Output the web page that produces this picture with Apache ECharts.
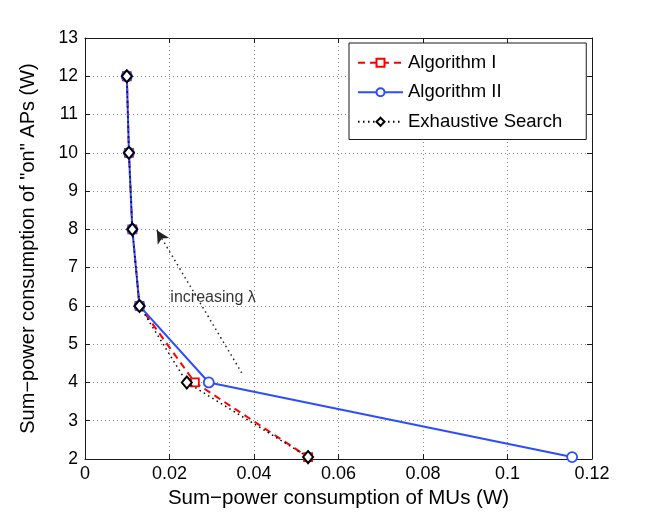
<!DOCTYPE html>
<html><head><meta charset="utf-8">
<script src="https://cdn.jsdelivr.net/npm/echarts@6/dist/echarts.min.js"></script>
<style>html,body{margin:0;padding:0;background:#fff}#c{width:654px;height:517px}</style>
</head><body><div id="c"></div>
<script>
const xTicks = [0, 0.02, 0.04, 0.06, 0.08, 0.1, 0.12];
const yTicks = [2, 3, 4, 5, 6, 7, 8, 9, 10, 11, 12, 13];
const algo1X = [0.0099, 0.0104, 0.0112, 0.0129, 0.0260, 0.0528];
const algo1Y = [12, 10, 8, 6, 4, 2.05];
const algo2X = [0.0099, 0.0104, 0.0112, 0.0129, 0.0293, 0.1153];
const algo2Y = [12, 10, 8, 6, 4, 2.05];
const exhX = [0.0099, 0.0104, 0.0112, 0.0129, 0.0241, 0.0528];
const exhY = [12, 10, 8, 6, 4, 2.05];
const arrowFrom = [0.0371, 4.25];
const arrowTo = [0.0170, 7.98];
const noteAt = [0.0202, 6.23];
const noteText = 'increasing λ';
const seriesNames = ['Algorithm I', 'Algorithm II', 'Exhaustive Search'];

const zip = (xs, ys) => xs.map((x, i) => [x, ys[i]]);
const font = 'Liberation Sans, Arial, Helvetica, sans-serif';
const frame = '#1a1a1a';

const chart = echarts.init(document.getElementById('c'), null, {renderer: 'canvas'});
const baseX = {
  type: 'value', min: xTicks[0], max: xTicks[xTicks.length - 1], interval: xTicks[1] - xTicks[0]
};
const baseY = {
  type: 'value', min: yTicks[0], max: yTicks[yTicks.length - 1], interval: yTicks[1] - yTicks[0]
};
chart.setOption({
  animation: false,
  backgroundColor: '#fff',
  textStyle: {fontFamily: font},
  grid: {left: 85, right: 62, top: 38, bottom: 58},
  legend: {
    data: seriesNames,
    orient: 'vertical',
    left: 349, top: 43,
    padding: [10, 24, 8, 8],
    itemGap: 10,
    itemWidth: 45, itemHeight: 10,
    borderColor: frame, borderWidth: 1,
    backgroundColor: '#fff',
    textStyle: {fontSize: 18.5, color: '#000', fontFamily: font, lineHeight: 19.5}
  },
  xAxis: [
    Object.assign({}, baseX, {
      position: 'bottom',
      name: 'Sum\u2212power consumption of MUs (W)',
      nameLocation: 'middle', nameGap: 27,
      nameTextStyle: {fontSize: 20.5, color: '#000', fontFamily: font},
      axisLine: {show: true, onZero: false, lineStyle: {color: frame, width: 1}},
      axisTick: {show: true, inside: true, length: 5, lineStyle: {color: frame}},
      axisLabel: {fontSize: 18, color: '#000', margin: 6, fontFamily: font,
        formatter: v => String(+v.toFixed(4))},
      splitLine: {show: true, lineStyle: {color: '#8a8a8a', type: [1, 3], width: 1}}
    }),
    Object.assign({}, baseX, {
      position: 'top',
      axisLine: {show: true, onZero: false, lineStyle: {color: frame, width: 1}},
      axisTick: {show: true, inside: true, length: 5, lineStyle: {color: frame}},
      axisLabel: {show: false},
      splitLine: {show: false}
    })
  ],
  yAxis: [
    Object.assign({}, baseY, {
      position: 'left',
      name: 'Sum\u2212power consumption of "on" APs (W)',
      nameLocation: 'middle', nameGap: 47,
      nameTextStyle: {fontSize: 20, color: '#000', fontFamily: font},
      axisLine: {show: true, onZero: false, lineStyle: {color: frame, width: 1}},
      axisTick: {show: true, inside: true, length: 5, lineStyle: {color: frame}},
      axisLabel: {fontSize: 17.5, color: '#000', margin: 7, fontFamily: font},
      splitLine: {show: true, lineStyle: {color: '#8a8a8a', type: [1, 3], width: 1}}
    }),
    Object.assign({}, baseY, {
      position: 'right',
      axisLine: {show: true, onZero: false, lineStyle: {color: frame, width: 1}},
      axisTick: {show: true, inside: true, length: 5, lineStyle: {color: frame}},
      axisLabel: {show: false},
      splitLine: {show: false}
    })
  ],
  series: [
    {
      name: seriesNames[0], type: 'line', xAxisIndex: 0, yAxisIndex: 0,
      data: zip(algo1X, algo1Y),
      symbol: 'rect', symbolSize: 8,
      lineStyle: {color: '#ff0000', width: 2, type: [7, 5]},
      itemStyle: {color: '#fff', borderColor: '#ff0000', borderWidth: 1.8},
      z: 2
    },
    {
      name: seriesNames[1], type: 'line', xAxisIndex: 0, yAxisIndex: 0,
      data: zip(algo2X, algo2Y),
      symbol: 'circle', symbolSize: 10,
      lineStyle: {color: '#2c4dff', width: 2},
      itemStyle: {color: '#fff', borderColor: '#2c4dff', borderWidth: 1.8},
      z: 3
    },
    {
      name: seriesNames[2], type: 'line', xAxisIndex: 0, yAxisIndex: 0,
      data: zip(exhX, exhY),
      symbol: 'diamond', symbolSize: [10, 12],
      lineStyle: {color: '#000', width: 1.5, type: [1.5, 3.5]},
      itemStyle: {color: '#fff', borderColor: '#000', borderWidth: 2},
      z: 4,
      markLine: {
        silent: true,
        symbol: ['none', 'arrow'], symbolSize: [10, 13],
        label: {show: false},
        lineStyle: {color: '#222', width: 1.5, type: [1.5, 3.5]},
        data: [[{coord: arrowFrom}, {coord: arrowTo}]]
      }
    },
    {
      name: 'note', type: 'scatter', xAxisIndex: 0, yAxisIndex: 0,
      data: [noteAt], symbolSize: 0, silent: true,
      label: {show: true, position: 'right', distance: 0, formatter: noteText,
        fontSize: 16, color: '#000', fontFamily: font}
    }
  ]
});
</script></body></html>
